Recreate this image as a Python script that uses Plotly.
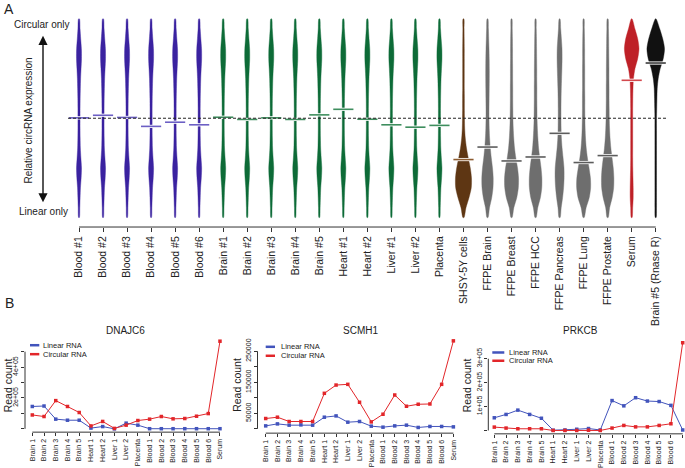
import plotly.graph_objects as go

W, H = 685, 468

# ---------------- Panel A data ----------------
samples = ["Blood #1", "Blood #2", "Blood #3", "Blood #4", "Blood #5", "Blood #6",
           "Brain #1", "Brain #2", "Brain #3", "Brain #4", "Brain #5",
           "Heart #1", "Heart #2", "Liver #1", "Liver #2", "Placenta",
           "SHSY-5Y cells", "FFPE Brain", "FFPE Breast", "FFPE HCC", "FFPE Pancreas",
           "FFPE Lung", "FFPE Prostate", "Serum", "Brain #5 (Rnase R)"]
sample_group = ["blood"] * 6 + ["tissue"] * 10 + ["cell"] + ["ffpe"] * 6 + ["serum", "rnase"]
medians = [0.502, 0.515, 0.504, 0.459, 0.480, 0.467,
           0.505, 0.494, 0.502, 0.494, 0.517,
           0.545, 0.495, 0.467, 0.455, 0.464,
           0.292, 0.355, 0.285, 0.305, 0.424,
           0.277, 0.312, 0.691, 0.778]
profile_of = ["tissue"] * 16 + ["shsy", "ffpe_brain", "ffpe_breast", "ffpe_hcc",
                                "ffpe_pancreas", "ffpe_lung", "ffpe_prostate", "serum", "rnase"]
# density levels (relative expression, bottom -> top)
levels = [0.00, 0.05, 0.10, 0.15, 0.20, 0.25, 0.30, 0.35, 0.40, 0.45, 0.50,
          0.55, 0.60, 0.65, 0.70, 0.75, 0.80, 0.85, 0.90, 0.95, 1.00]
# density estimates (bottom -> top)
dens_tissue = [0.35, 0.8, 1.1, 1.45, 2.15, 2.5, 1.9, 1.35, 1.15, 1.05, 1.05, 1.05, 1.15, 1.35, 1.6, 2.05, 2.5, 2.4, 1.7, 1.05, 0.45]
dens_shsy = [0.5, 2.5, 5.5, 7.8, 8.0, 6.8, 4.8, 3.0, 1.8, 1.2, 1.0, 0.9, 0.9, 0.8, 0.8, 0.8, 0.8, 0.8, 0.7, 0.6, 0.4]
dens_ffpe_brain = [0.5, 2.0, 4.2, 5.5, 5.7, 5.0, 3.8, 2.8, 2.1, 1.7, 1.5, 1.5, 1.6, 1.7, 1.8, 1.8, 1.7, 1.5, 1.2, 0.9, 0.4]
dens_ffpe_breast = [0.5, 2.3, 5.2, 6.8, 7.0, 6.0, 4.3, 3.0, 2.2, 1.7, 1.4, 1.3, 1.2, 1.2, 1.1, 1.1, 1.0, 1.0, 0.9, 0.7, 0.4]
dens_ffpe_hcc = [0.5, 2.2, 4.8, 6.2, 6.3, 5.5, 4.2, 3.0, 2.3, 1.8, 1.5, 1.4, 1.3, 1.3, 1.2, 1.2, 1.1, 1.0, 0.9, 0.7, 0.4]
dens_ffpe_pancreas = [0.5, 1.6, 3.0, 4.0, 4.5, 4.4, 3.5, 2.5, 1.8, 1.5, 1.4, 1.4, 1.5, 1.7, 2.0, 2.3, 2.5, 2.4, 1.8, 1.1, 0.4]
dens_ffpe_lung = [0.5, 2.5, 5.6, 7.0, 6.8, 5.4, 3.8, 2.6, 1.9, 1.5, 1.3, 1.2, 1.2, 1.1, 1.1, 1.1, 1.0, 1.0, 0.9, 0.7, 0.4]
dens_ffpe_prostate = [0.5, 2.0, 4.5, 6.0, 6.2, 5.6, 4.4, 3.2, 2.4, 1.9, 1.6, 1.5, 1.4, 1.4, 1.3, 1.3, 1.2, 1.1, 1.0, 0.8, 0.4]
dens_serum = [0.4, 1.0, 1.5, 1.5, 1.3, 1.1, 1.0, 1.0, 1.0, 1.0, 1.0, 1.0, 1.1, 1.3, 1.8, 3.3, 6.0, 7.3, 6.0, 3.2, 0.4]
dens_rnase = [0.4, 0.8, 0.8, 0.8, 0.8, 0.8, 0.8, 0.8, 0.8, 0.8, 0.8, 1.0, 1.2, 1.5, 2.5, 4.5, 7.5, 8.8, 7.0, 4.0, 0.4]

profiles = {
    "tissue": dens_tissue, "shsy": dens_shsy, "ffpe_brain": dens_ffpe_brain,
    "ffpe_breast": dens_ffpe_breast, "ffpe_hcc": dens_ffpe_hcc,
    "ffpe_pancreas": dens_ffpe_pancreas, "ffpe_lung": dens_ffpe_lung,
    "ffpe_prostate": dens_ffpe_prostate, "serum": dens_serum, "rnase": dens_rnase,
}

# ---------------- Panel B data ----------------
b_categories = ["Brain 1", "Brain 2", "Brain 3", "Brain 4", "Brain 5", "Heart 1", "Heart 2",
                "Liver 1", "Liver 2", "Placenta", "Blood 1", "Blood 2", "Blood 3", "Blood 4",
                "Blood 5", "Blood 6", "Serum"]
dnajc6_linear = [145000, 148000, 63000, 56000, 56000, 5000, 15000, 0, 37000, 24000,
                 1000, 1000, 1000, 1000, 1000, 1000, 1000]
dnajc6_circular = [90000, 80000, 183000, 145000, 106000, 19000, 48000, 3000, 24000, 54000,
                   63000, 80000, 65000, 67000, 82000, 99000, 568000]
scmh1_linear = [9600, 16000, 11900, 12800, 11900, 37500, 41700, 21500, 23700, 8700,
                5400, 9600, 11900, 4500, 7700, 7700, 6400]
scmh1_circular = [33300, 37500, 23700, 23700, 23700, 114400, 141000, 143300, 85600, 22400,
                  47100, 109000, 72800, 79200, 80100, 143300, 283300]
prkcb_linear = [53000, 67000, 85000, 67000, 51000, 1000, 2000, 5000, 8000, 2000,
                125000, 103000, 137000, 123000, 121000, 105000, 2000]
prkcb_circular = [14000, 10000, 7000, 7000, 7000, 0, 0, 0, 1000, 0,
                  10000, 21000, 15000, 15000, 21000, 28000, 367000]
dnajc6_ticks = [0, 100000, 200000, 300000, 400000, 500000]
dnajc6_ticktext = ["", "", "2e+05", "", "4e+05", ""]
scmh1_ticks = [0, 50000, 100000, 150000, 200000, 250000]
scmh1_ticktext = ["", "50000", "", "150000", "", "250000"]
prkcb_ticks = [0, 100000, 200000, 300000]
prkcb_ticktext = ["", "1e+05", "2e+05", "3e+05"]

# ---------------- styling ----------------
FONT = "Liberation Sans, Arial, Helvetica, sans-serif"
TXT = "#222222"
group_fill = {"blood": "#3A22A0", "tissue": "#0D6B37", "cell": "#5E3613",
              "ffpe": "#6E6E6E", "serum": "#BE2027", "rnase": "#111111"}
group_median = {"blood": "#6C5FC4", "tissue": "#3E8E5E", "cell": "#8C5B30",
                "ffpe": "#5C5C5C", "serum": "#D3494E", "rnase": "#3A3A3A"}
LINE_BLUE = "#4254BC"
LINE_RED = "#E2262A"


def px_x(p):
    return p / W


def px_y(p):
    return 1 - p / H


fig = go.Figure()

# ----- Panel A: violins -----
DENS_SCALE = 1 / 24.03      # density (px) -> category units
MED_HALF = 0.42
for i, name in enumerate(samples):
    g = sample_group[i]
    d = profiles[profile_of[i]]
    xs = [i + v * DENS_SCALE for v in d] + [i - v * DENS_SCALE for v in reversed(d)]
    ys = list(levels) + list(reversed(levels))
    xs.append(xs[0])
    ys.append(ys[0])
    fig.add_trace(go.Scatter(x=xs, y=ys, mode="lines", fill="toself",
                             fillcolor=group_fill[g],
                             line=dict(color=group_fill[g], width=0.4, shape="spline", smoothing=0.8),
                             hoverinfo="skip", showlegend=False, xaxis="x", yaxis="y"))
for i, m in enumerate(medians):
    g = sample_group[i]
    fig.add_trace(go.Scatter(x=[i - MED_HALF, i + MED_HALF], y=[m, m], mode="lines",
                             line=dict(color="white", width=3.2), hoverinfo="skip",
                             showlegend=False, xaxis="x", yaxis="y"))
    fig.add_trace(go.Scatter(x=[i - MED_HALF, i + MED_HALF], y=[m, m], mode="lines",
                             line=dict(color=group_median[g], width=1.6), hoverinfo="skip",
                             showlegend=False, xaxis="x", yaxis="y"))

# ----- Panel B: line charts -----
b_panels = [
    ("x2", "y2", dnajc6_linear, dnajc6_circular),
    ("x3", "y3", scmh1_linear, scmh1_circular),
    ("x4", "y4", prkcb_linear, prkcb_circular),
]
xidx = list(range(len(b_categories)))
for xa, ya, lin, circ in b_panels:
    for vals, col in ((lin, LINE_BLUE), (circ, LINE_RED)):
        fig.add_trace(go.Scatter(x=xidx, y=vals, mode="lines+markers",
                                 line=dict(color=col, width=1),
                                 marker=dict(symbol="square", size=3.5, color=col),
                                 cliponaxis=False, hoverinfo="skip", showlegend=False,
                                 xaxis=xa, yaxis=ya))

# ----- Axes -----
A_BOTTOM = 228.0
A_TOP = 10.0
a_x0, a_step = 79.0, 24.03
a_y0, a_yscale = 218.5, 199.5
layout_axes = dict(
    xaxis=dict(domain=[0, 1], range=[(0 - a_x0) / a_step, (W - a_x0) / a_step],
               tickmode="array", tickvals=list(range(len(samples))), ticktext=samples,
               tickangle=-90, ticks="outside", ticklen=4, tickwidth=1, tickcolor="#333333",
               showline=False, showgrid=False, zeroline=False, anchor="y",
               tickfont=dict(family=FONT, size=10.5, color=TXT)),
    yaxis=dict(domain=[px_y(A_BOTTOM), px_y(A_TOP)],
               range=[-(A_BOTTOM - a_y0) / a_yscale, (a_y0 - A_TOP) / a_yscale],
               visible=False, anchor="x"),
)

# bottom panel geometry: (xaxis, yaxis, axis-left px, right px, first px, step px,
#                        baseline px, px per unit, axis-bottom px, ticks, ticktext)
b_geom = [
    ("xaxis2", "yaxis2", "x2", "y2", 25.0, 226.0, 32.3, 11.73, 430.7, 15.5 / 100000, 434.0,
     dnajc6_ticks, dnajc6_ticktext),
    ("xaxis3", "yaxis3", "x3", "y3", 257.5, 458.0, 265.7, 11.73, 430.7, 15.6 / 50000, 435.0,
     scmh1_ticks, scmh1_ticktext),
    ("xaxis4", "yaxis4", "x4", "y4", 488.3, 685.0, 494.3, 11.775, 432.3, 24.0 / 100000, 435.7,
     prkcb_ticks, prkcb_ticktext),
]
B_TOP = 340.0
shapes = []
for (xk, yk, xr, yr, left, right, first, step, base, ppu, bottom, tv, tt) in b_geom:
    layout_axes[xk] = dict(domain=[px_x(left), px_x(right)],
                           range=[(left - first) / step, (right - first) / step],
                           tickmode="array", tickvals=xidx, ticktext=b_categories,
                           tickangle=-90, ticks="outside", ticklen=3, tickwidth=1,
                           tickcolor="#333333", showline=False, showgrid=False,
                           zeroline=False, anchor=yr,
                           tickfont=dict(family=FONT, size=7, color=TXT))
    layout_axes[yk] = dict(domain=[px_y(bottom), px_y(B_TOP)],
                           range=[-(bottom - base) / ppu, (base - B_TOP) / ppu],
                           tickmode="array", tickvals=tv, ticktext=tt, tickangle=-90,
                           ticks="outside", ticklen=3, tickwidth=1, tickcolor="#333333",
                           showline=False, showgrid=False, zeroline=False, anchor=xr,
                           tickfont=dict(family=FONT, size=7, color=TXT))
    # R-style axis lines spanning first..last tick
    shapes.append(dict(type="line", xref=xr, yref="paper", x0=0, x1=len(b_categories) - 1,
                       y0=px_y(bottom), y1=px_y(bottom), line=dict(color="#333333", width=1)))
    shapes.append(dict(type="line", xref="paper", yref=yr, x0=px_x(left), x1=px_x(left),
                       y0=tv[0], y1=tv[-1], line=dict(color="#333333", width=1)))

# panel A axis line and dashed reference
shapes.append(dict(type="line", xref="x", yref="paper", x0=0, x1=len(samples) - 1,
                   y0=px_y(A_BOTTOM), y1=px_y(A_BOTTOM), line=dict(color="#333333", width=1)))
shapes.append(dict(type="line", xref="x", yref="y", x0=(68 - a_x0) / a_step,
                   x1=(668 - a_x0) / a_step, y0=0.5, y1=0.5,
                   line=dict(color="#222222", width=1, dash="3px,2px")))

# legends of panel B (drawn manually)
legend_geom = [(30.0, 39.3, 40.7, 346.7, 355.7),
               (265.7, 275.0, 279.0, 348.3, 357.3),
               (492.3, 504.3, 506.7, 354.0, 362.3)]
annotations = []
for (lx0, lx1, tx, yl, yc) in legend_geom:
    for yy, col, lab in ((yl, LINE_BLUE, "Linear RNA"), (yc, LINE_RED, "Circular RNA")):
        shapes.append(dict(type="line", xref="paper", yref="paper", x0=px_x(lx0), x1=px_x(lx1),
                           y0=px_y(yy), y1=px_y(yy), line=dict(color=col, width=2.5)))
        annotations.append(dict(text=lab, xref="paper", yref="paper", x=px_x(tx), y=px_y(yy),
                                xanchor="left", yanchor="middle", showarrow=False,
                                font=dict(family=FONT, size=7.5, color=TXT)))

titles = [("DNAJC6", 126.0), ("SCMH1", 361.0), ("PRKCB", 580.0)]
for t, cx in titles:
    annotations.append(dict(text=t, xref="paper", yref="paper", x=px_x(cx), y=px_y(332),
                            xanchor="center", yanchor="middle", showarrow=False,
                            font=dict(family=FONT, size=10, color=TXT)))
for cx in (8.0, 237.5, 467.0):
    annotations.append(dict(text="Read count", xref="paper", yref="paper", x=px_x(cx),
                            y=px_y(387), xanchor="center", yanchor="middle", textangle=-90,
                            showarrow=False, font=dict(family=FONT, size=10.5, color=TXT)))

annotations += [
    dict(text="A", xref="paper", yref="paper", x=px_x(9), y=px_y(9), xanchor="center",
         yanchor="middle", showarrow=False, font=dict(family=FONT, size=14, color=TXT)),
    dict(text="B", xref="paper", yref="paper", x=px_x(9), y=px_y(304), xanchor="center",
         yanchor="middle", showarrow=False, font=dict(family=FONT, size=14, color=TXT)),
    dict(text="Circular only", xref="paper", yref="paper", x=px_x(42), y=px_y(25),
         xanchor="center", yanchor="middle", showarrow=False,
         font=dict(family=FONT, size=10, color=TXT)),
    dict(text="Linear only", xref="paper", yref="paper", x=px_x(43), y=px_y(212),
         xanchor="center", yanchor="middle", showarrow=False,
         font=dict(family=FONT, size=10, color=TXT)),
    dict(text="Relative circRNA expression", xref="paper", yref="paper", x=px_x(28),
         y=px_y(121), xanchor="center", yanchor="middle", textangle=-90, showarrow=False,
         font=dict(family=FONT, size=10, color=TXT)),
    # double-headed arrow
    dict(text="", xref="paper", yref="paper", x=px_x(43), y=px_y(36), ax=0, ay=168,
         showarrow=True, arrowhead=2, startarrowhead=2, arrowside="end+start",
         arrowsize=1.3, startarrowsize=1.3, arrowwidth=1.4, arrowcolor="#111111"),
]

fig.update_layout(
    width=W, height=H, autosize=False,
    margin=dict(l=0, r=0, t=0, b=0),
    paper_bgcolor="white", plot_bgcolor="white",
    showlegend=False, shapes=shapes, annotations=annotations,
    font=dict(family=FONT, color=TXT),
    **layout_axes,
)

fig.write_html("out.html",
               config={"displayModeBar": False, "staticPlot": True},
               post_script="document.body.style.margin='0px';document.body.style.overflow='hidden';")
